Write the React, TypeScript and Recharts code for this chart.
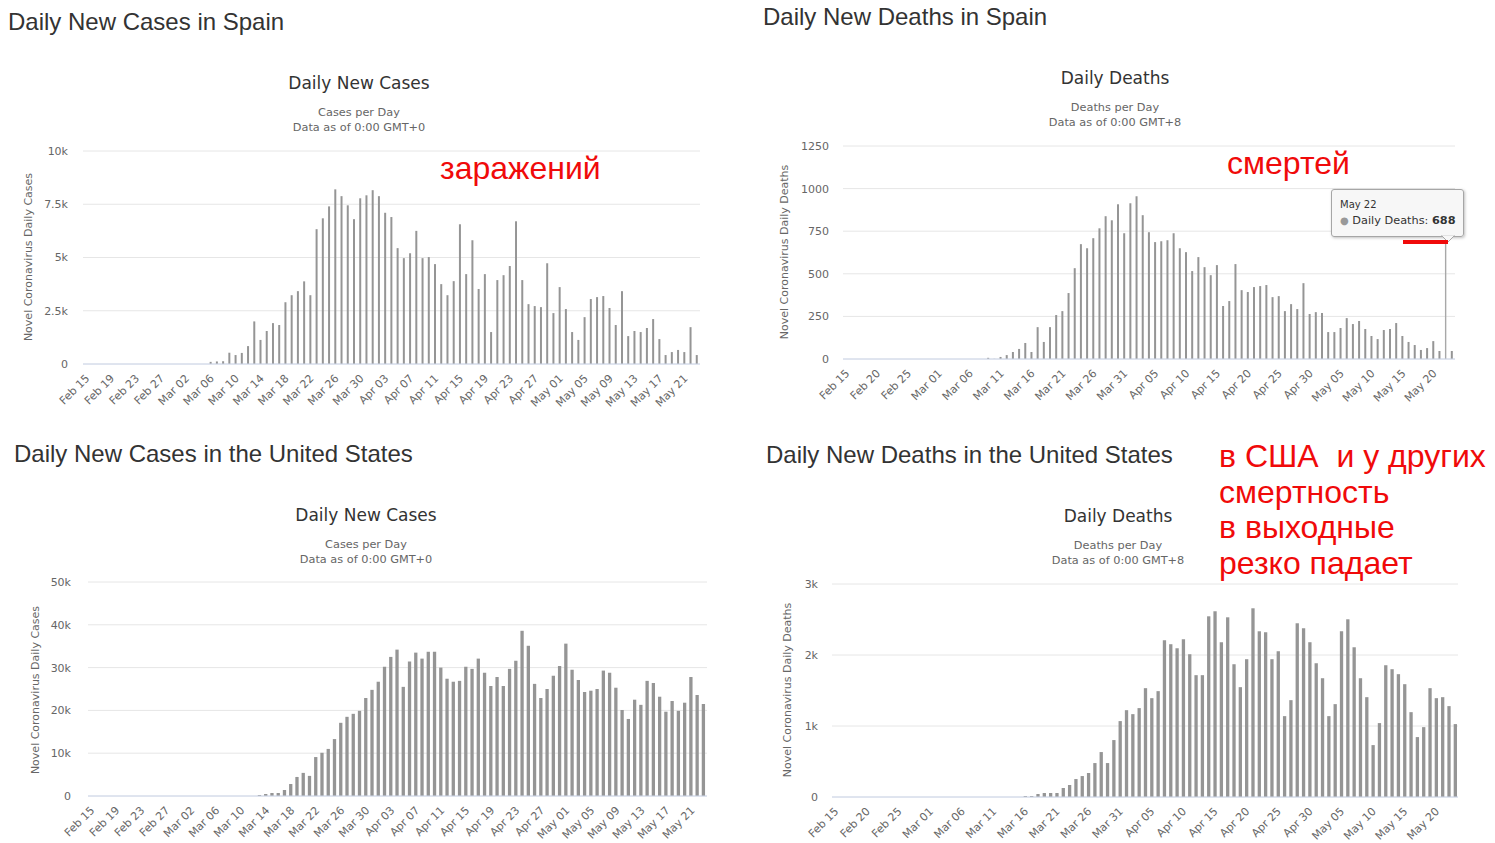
import React from 'react'
import { BarChart, Bar, XAxis, YAxis, CartesianGrid } from 'recharts'

const days = [
  'Feb 15', 'Feb 16', 'Feb 17', 'Feb 18', 'Feb 19', 'Feb 20', 'Feb 21', 'Feb 22', 'Feb 23', 'Feb 24',
  'Feb 25', 'Feb 26', 'Feb 27', 'Feb 28', 'Feb 29',
  'Mar 01', 'Mar 02', 'Mar 03', 'Mar 04', 'Mar 05', 'Mar 06', 'Mar 07', 'Mar 08', 'Mar 09', 'Mar 10',
  'Mar 11', 'Mar 12', 'Mar 13', 'Mar 14', 'Mar 15', 'Mar 16', 'Mar 17', 'Mar 18', 'Mar 19', 'Mar 20',
  'Mar 21', 'Mar 22', 'Mar 23', 'Mar 24', 'Mar 25', 'Mar 26', 'Mar 27', 'Mar 28', 'Mar 29', 'Mar 30', 'Mar 31',
  'Apr 01', 'Apr 02', 'Apr 03', 'Apr 04', 'Apr 05', 'Apr 06', 'Apr 07', 'Apr 08', 'Apr 09', 'Apr 10',
  'Apr 11', 'Apr 12', 'Apr 13', 'Apr 14', 'Apr 15', 'Apr 16', 'Apr 17', 'Apr 18', 'Apr 19', 'Apr 20',
  'Apr 21', 'Apr 22', 'Apr 23', 'Apr 24', 'Apr 25', 'Apr 26', 'Apr 27', 'Apr 28', 'Apr 29', 'Apr 30',
  'May 01', 'May 02', 'May 03', 'May 04', 'May 05', 'May 06', 'May 07', 'May 08', 'May 09', 'May 10',
  'May 11', 'May 12', 'May 13', 'May 14', 'May 15', 'May 16', 'May 17', 'May 18', 'May 19', 'May 20',
  'May 21', 'May 22', 'May 23',
]

const spainCases = [
  0, 0, 0, 0, 0, 0, 0, 0, 0, 0, 0, 0, 0, 0, 0,
  0, 0, 0, 0, 0, 100, 120, 130, 530, 420, 520, 840, 2000, 1130, 1550, 1920, 1830, 2900, 3230, 3420,
  3880, 3230, 6330, 6840, 7400, 8200, 7880, 7450, 6800, 7780, 7920,
  8160, 7880, 7100, 6900, 5440, 4970, 5200, 6250, 4970, 5020, 4690, 3750, 3230, 3890, 6560,
  4220, 5810, 3520, 4220, 1500, 3940, 4170, 4600, 6700, 3940, 2810, 2720, 2670, 4730, 2390,
  3610, 2580, 1500, 1130, 2200, 3050, 3140, 3190, 2630, 1830, 3420, 1310, 1550, 1500, 1690,
  2110, 1170, 420, 560, 660, 560, 1730, 420,
]

const spainDeaths = [
  0, 0, 0, 0, 0, 0, 0, 0, 0, 0, 0, 0, 0, 0, 0,
  0, 0, 0, 0, 0, 0, 0, 0, 7, 1, 12, 23, 41, 59, 94, 41, 187, 100, 187, 258,
  281, 387, 533, 674, 650, 709, 767, 838, 814, 908, 738,
  914, 955, 844, 744, 686, 691, 697, 738, 650, 627, 516, 598, 539, 492, 551,
  311, 340, 557, 404, 393, 422, 428, 434, 363, 369, 281, 322, 293, 445, 264,
  275, 270, 158, 158, 182, 240, 205, 223, 176, 135, 117, 170, 176, 211, 135,
  100, 82, 53, 64, 105, 47, 688, 47,
]

const usCases = [
  0, 0, 0, 0, 0, 0, 0, 0, 0, 0, 0, 0, 0, 0, 0,
  0, 0, 0, 0, 0, 0, 0, 0, 0, 0, 0, 0, 230, 470, 700, 700, 1400, 2800, 4450, 5400,
  4700, 9100, 10100, 11000, 13300, 17100, 18500, 19200, 19900, 22900, 24800,
  26700, 30200, 32500, 34200, 25500, 31400, 33500, 32100, 33700, 33700, 30000, 27400, 26700, 26900, 30200,
  29700, 32100, 28800, 25700, 27800, 25700, 29700, 31600, 38600, 35100, 26200, 22900, 25000, 28100, 30400,
  35600, 29500, 27100, 24300, 24600, 25000, 29300, 28800, 25300, 20100, 18000, 22500, 21300, 26900, 26400,
  23200, 19700, 22200, 19900, 21800, 27800, 23600, 21500,
]

const usDeaths = [
  0, 0, 0, 0, 0, 0, 0, 0, 0, 0, 0, 0, 0, 0, 0,
  0, 0, 0, 0, 0, 0, 0, 0, 0, 0, 0, 0, 0, 0, 0, 14, 14, 42, 56, 56,
  56, 127, 169, 253, 295, 338, 478, 633, 478, 802, 1069,
  1223, 1167, 1252, 1533, 1392, 1491, 2208, 2152, 2095, 2222, 2011, 1716, 1716, 2545, 2616,
  2180, 2531, 1870, 1547, 1941, 2658, 2334, 2320, 1941, 2053, 1139, 1364, 2447, 2377, 2180,
  1884, 1673, 1139, 1308, 2334, 2503, 2109, 1673, 1406, 731, 1041, 1856, 1800, 1730, 1589,
  1195, 844, 984, 1533, 1392, 1406, 1280, 1027,
]

const spainCaseTicks = [0, 2500, 5000, 7500, 10000]
const spainDeathTicks = [0, 250, 500, 750, 1000, 1250]
const usCaseTicks = [0, 10000, 20000, 30000, 40000, 50000]
const usDeathTicks = [0, 1000, 2000, 3000]

// the bar under the tooltip in the Spain deaths chart
const hoverDay = 'May 22'

const hcFont = '"DejaVu Sans", Verdana, sans-serif'
const headFont = '"Liberation Sans", Arial, sans-serif'
const barColor = '#959595'

const kFormat = (v: number) => (v === 0 ? '0' : `${v / 1000}k`)
const plainFormat = (v: number) => `${v}`

function DateTick({ x, y, payload }: any) {
  return (
    <g transform={`translate(${x + 4},${y + 7})`}>
      <text textAnchor="end" transform="rotate(-45)" fontSize={11} fill="#666" fontFamily={hcFont}>
        {payload.value}
      </text>
    </g>
  )
}

function HoverBar(props: any) {
  const { x, y, width, height, payload } = props
  if (payload && payload.day === hoverDay) {
    return <rect x={x + width / 2 - 0.7} y={y} width={1.4} height={height} fill="#a8a8a8" />
  }
  return <rect x={x} y={y} width={width} height={height} fill={barColor} />
}

interface PanelProps {
  heading: string
  headX: number
  headY: number
  title: string
  subtitle: string
  dataNote: string
  titleX: number
  titleY: number
  values: number[]
  ticks: number[]
  fmt: (v: number) => string
  axisTitle: string
  axisTitleX: number
  axisTitleY: number
  plot: { left: number; right: number; top: number; bottom: number }
  labelGap: number
  interval: number
  barSize: number
  hover?: boolean
}

function Panel(p: PanelProps) {
  const svgLeft = p.plot.left - 80
  const svgTop = p.plot.top - 12
  const svgRight = p.plot.right + 10
  const svgBottom = p.plot.bottom + 52
  const data = days.map((day, i) => ({ day, value: p.values[i] }))
  return (
    <>
      <div
        style={{
          position: 'absolute', left: p.headX, top: p.headY - 14, fontFamily: headFont,
          fontSize: 24, color: '#333', whiteSpace: 'nowrap', lineHeight: '28px',
        }}
      >
        {p.heading}
      </div>
      <div
        style={{
          position: 'absolute', left: p.titleX - 200, width: 400, top: p.titleY - 11, textAlign: 'center',
          fontFamily: hcFont, fontSize: 17, color: '#333', lineHeight: '22px',
        }}
      >
        {p.title}
      </div>
      <div
        style={{
          position: 'absolute', left: p.titleX - 200, width: 400, top: p.titleY + 22, textAlign: 'center',
          fontFamily: hcFont, fontSize: 11.3, color: '#666', lineHeight: '15px',
        }}
      >
        <div>{p.subtitle}</div>
        <div>{p.dataNote}</div>
      </div>
      <div
        style={{
          position: 'absolute', left: p.axisTitleX - 150, top: p.axisTitleY - 8, width: 300, textAlign: 'center',
          transform: 'rotate(-90deg)', fontFamily: hcFont, fontSize: 11, color: '#666', lineHeight: '16px',
          whiteSpace: 'nowrap',
        }}
      >
        {p.axisTitle}
      </div>
      <div style={{ position: 'absolute', left: svgLeft, top: svgTop, fontFamily: hcFont }}>
        <BarChart
          width={svgRight - svgLeft}
          height={svgBottom - svgTop}
          data={data}
          margin={{ top: p.plot.top - svgTop, right: svgRight - p.plot.right, left: 0, bottom: 0 }}
          barCategoryGap={0}
        >
          <CartesianGrid vertical={false} stroke="#e6e6e6" />
          <XAxis
            dataKey="day"
            interval={p.interval}
            tick={<DateTick />}
            tickLine={false}
            axisLine={{ stroke: '#ccd6eb' }}
            height={svgBottom - p.plot.bottom}
          />
          <YAxis
            type="number"
            domain={[0, p.ticks[p.ticks.length - 1]]}
            ticks={p.ticks}
            tickFormatter={p.fmt}
            axisLine={false}
            tickLine={false}
            tickSize={6}
            tickMargin={p.labelGap - 6}
            width={p.plot.left - svgLeft}
            tick={{ fontSize: 11, fill: '#666', fontFamily: hcFont }}
          />
          <Bar
            dataKey="value"
            fill={barColor}
            barSize={p.barSize}
            isAnimationActive={false}
            shape={p.hover ? <HoverBar /> : undefined}
          />
        </BarChart>
      </div>
    </>
  )
}

const red = '#f00a0a'

export default function App() {
  const hoverIndex = days.indexOf(hoverDay)
  return (
    <div style={{ position: 'absolute', left: 0, top: 0, width: 1495, height: 843, background: '#fff', overflow: 'hidden' }}>
      <Panel
        heading="Daily New Cases in Spain" headX={8} headY={22}
        title="Daily New Cases" subtitle="Cases per Day" dataNote="Data as of 0:00 GMT+0"
        titleX={359} titleY={83}
        values={spainCases} ticks={spainCaseTicks} fmt={kFormat}
        axisTitle="Novel Coronavirus Daily Cases" axisTitleX={29} axisTitleY={257}
        plot={{ left: 83, right: 700, top: 151, bottom: 364 }} labelGap={15}
        interval={3} barSize={2}
      />
      <Panel
        heading="Daily New Deaths in Spain" headX={763} headY={17}
        title="Daily Deaths" subtitle="Deaths per Day" dataNote="Data as of 0:00 GMT+8"
        titleX={1115} titleY={78}
        values={spainDeaths} ticks={spainDeathTicks} fmt={plainFormat}
        axisTitle="Novel Coronavirus Daily Deaths" axisTitleX={785} axisTitleY={252}
        plot={{ left: 843, right: 1455, top: 146, bottom: 359 }} labelGap={14}
        interval={4} barSize={2} hover
      />
      <Panel
        heading="Daily New Cases in the United States" headX={14} headY={454}
        title="Daily New Cases" subtitle="Cases per Day" dataNote="Data as of 0:00 GMT+0"
        titleX={366} titleY={515}
        values={usCases} ticks={usCaseTicks} fmt={kFormat}
        axisTitle="Novel Coronavirus Daily Cases" axisTitleX={36} axisTitleY={690}
        plot={{ left: 88, right: 707, top: 582, bottom: 796 }} labelGap={17}
        interval={3} barSize={3.3}
      />
      <Panel
        heading="Daily New Deaths in the United States" headX={766} headY={455}
        title="Daily Deaths" subtitle="Deaths per Day" dataNote="Data as of 0:00 GMT+8"
        titleX={1118} titleY={516}
        values={usDeaths} ticks={usDeathTicks} fmt={kFormat}
        axisTitle="Novel Coronavirus Daily Deaths" axisTitleX={788} axisTitleY={690}
        plot={{ left: 832, right: 1458, top: 584, bottom: 797 }} labelGap={14}
        interval={4} barSize={3.3}
      />

      {/* tooltip of the hovered bar */}
      <div
        style={{
          position: 'absolute', left: 1331, top: 189, width: 131, height: 46, background: 'rgba(247,247,247,0.95)',
          border: '1px solid #a6a6a6', borderRadius: 3, boxShadow: '1px 1px 3px rgba(0,0,0,0.25)',
          fontFamily: hcFont, color: '#333',
        }}
      >
        <div style={{ position: 'absolute', left: 8, top: 9, fontSize: 10, lineHeight: '12px' }}>{hoverDay}</div>
        <div style={{ position: 'absolute', left: 8, top: 23, fontSize: 11.3, lineHeight: '16px', whiteSpace: 'nowrap' }}>
          <span style={{ color: '#999', fontSize: 10 }}>●</span> Daily Deaths: <b>{spainDeaths[hoverIndex]}</b>
        </div>
      </div>
      <svg style={{ position: 'absolute', left: 1440, top: 234 }} width={16} height={10}>
        <polygon points="1,1 8,8 15,1" fill="rgba(247,247,247,1)" stroke="#a6a6a6" />
        <rect x={0} y={0} width={16} height={1.5} fill="rgba(247,247,247,1)" />
      </svg>
      <div style={{ position: 'absolute', left: 1403, top: 240, width: 45, height: 3.5, background: red }} />

      {/* red annotations */}
      <div style={{ position: 'absolute', left: 440, top: 150, fontFamily: headFont, fontSize: 32, color: red, lineHeight: '36px' }}>
        заражений
      </div>
      <div style={{ position: 'absolute', left: 1227, top: 145, fontFamily: headFont, fontSize: 32, color: red, lineHeight: '36px' }}>
        смертей
      </div>
      <div
        style={{
          position: 'absolute', left: 1219, top: 439, fontFamily: headFont, fontSize: 32, color: red,
          lineHeight: '35.5px', whiteSpace: 'pre',
        }}
      >
        {'в США  и у других\nсмертность\nв выходные\nрезко падает'}
      </div>
    </div>
  )
}
